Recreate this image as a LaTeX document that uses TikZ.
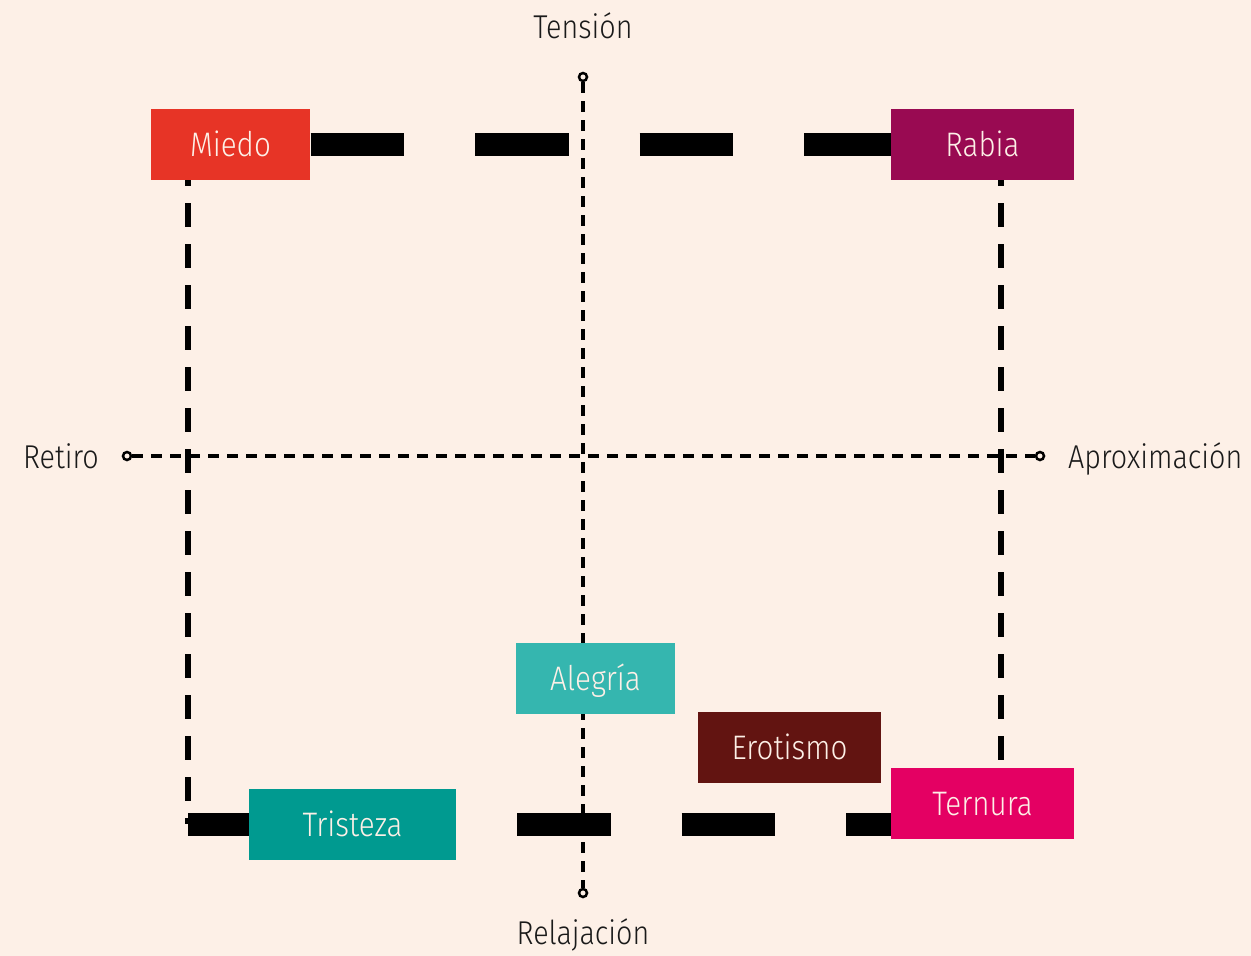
\documentclass[tikz,border=0pt]{standalone}
\usepackage{fontspec}
\setmainfont{Fira Sans}[UprightFont=* Light, FakeStretch=0.87]
\definecolor{bg}{HTML}{FDF0E7}
\definecolor{cmiedo}{HTML}{E73426}
\definecolor{crabia}{HTML}{990A52}
\definecolor{calegria}{HTML}{35B6AF}
\definecolor{cerotismo}{HTML}{621411}
\definecolor{cternura}{HTML}{E40063}
\definecolor{ctristeza}{HTML}{009A90}
\definecolor{ink}{HTML}{1A1A1A}
\tikzset{
  emo/.style={fill=#1, text=bg, inner sep=0pt, minimum height=71pt, text height=24pt, text depth=0pt, font=\fontsize{34}{40}\selectfont},
  axislbl/.style={text=ink, inner sep=0pt, font=\fontsize{33}{40}\selectfont},
  endpt/.style={circle, draw=black, fill=bg, line width=2.5pt, minimum size=8pt, inner sep=0pt},
  axisline/.style={black, line width=3.4pt, dash pattern=on 11pt off 8pt},
  thickh/.style={black, line width=23pt, dash pattern=on 93.5pt off 71pt},
  thickv/.style={black, line width=6pt, dash pattern=on 24pt off 17pt, dash phase=23pt},
}
\begin{document}
\begin{tikzpicture}[x=1pt,y=-1pt]
\fill[bg] (0,0) rectangle (1251,956);
\useasboundingbox (0,0) rectangle (1251,956);
% axes
\node[endpt] (top) at (583,77) {};
\node[endpt] (bot) at (583,893) {};
\node[endpt] (lft) at (127,456) {};
\node[endpt] (rgt) at (1040,456) {};
\draw[axisline] (top) -- (bot);
\draw[axisline] (lft) -- (rgt);
\node[axislbl, anchor=base] (tension) at (583,38) {Tensión};
\node[axislbl, anchor=base] (relajacion) at (583,944) {Relajación};
\node[axislbl, anchor=base east] (retiro) at (99,468) {Retiro};
\node[axislbl, anchor=base west] (aprox) at (1068,468) {Aproximación};
% frame corners
\coordinate (tl) at (188,144);
\coordinate (tr) at (1001,144);
\coordinate (bl) at (188,824);
\coordinate (br) at (1001,824);
\draw[thickh, dash phase=42pt] (tl) -- (tr);
\draw[thickh] (bl) -- (br);
\draw[thickv] (tl) -- (bl);
\draw[thickv] (tr) -- (br);
% emotion boxes
\node[emo=cmiedo, minimum width=159pt] (miedo) at (230.5,144.5) {Miedo};
\node[emo=crabia, minimum width=183pt] (rabia) at (982.5,144.5) {Rabia};
\node[emo=calegria, minimum width=159pt] (alegria) at (595.5,678.5) {Alegría};
\node[emo=cerotismo, minimum width=183pt] (erotismo) at (789.5,747.5) {Erotismo};
\node[emo=cternura, minimum width=183pt] (ternura) at (982.5,803.5) {Ternura};
\node[emo=ctristeza, minimum width=207pt] (tristeza) at (352.5,824.5) {Tristeza};
\end{tikzpicture}
\end{document}
